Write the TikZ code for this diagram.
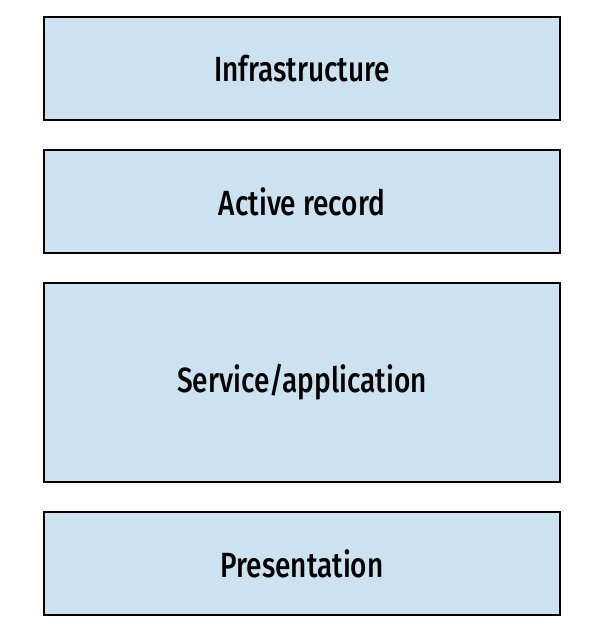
\documentclass[tikz,border=0pt]{standalone}
\usepackage{fontspec}
\setmainfont{Fira Sans}[FakeStretch=0.8, UprightFont=* Medium]
\definecolor{boxfill}{HTML}{CCE2F0}
\tikzset{
  layer/.style={draw=black, line width=2pt, fill=boxfill, minimum width=516pt, inner sep=0pt,
    font=\fontsize{35}{40}\selectfont}
}
\begin{document}
\begin{tikzpicture}[x=1pt,y=-1pt]
\useasboundingbox (0,0) rectangle (614,634);
\node[layer, minimum height=103pt] (infra) at (302,68.5) {Infrastructure};
\node[layer, minimum height=103pt] (active) at (302,201.5) {Active record};
\node[layer, minimum height=199pt] (service) at (302,382.5) {Service/application};
\node[layer, minimum height=103pt] (pres) at (302,563.5) {Presentation};
\end{tikzpicture}
\end{document}
